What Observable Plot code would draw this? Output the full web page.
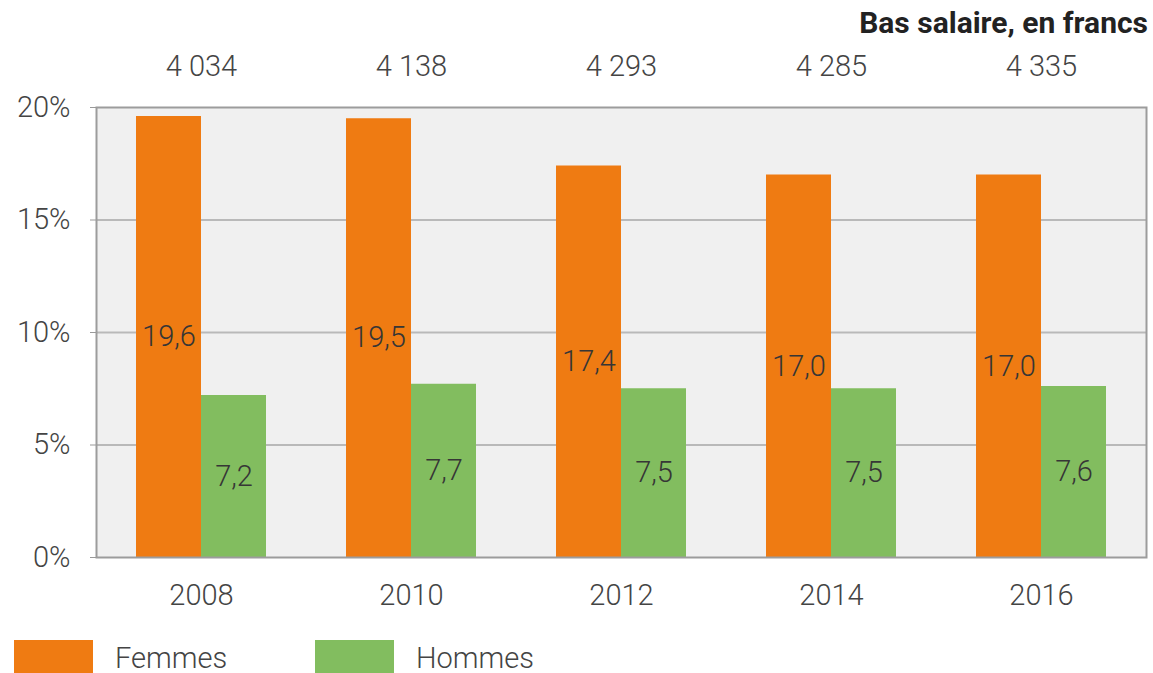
<!DOCTYPE html>
<html><head><meta charset="utf-8">
<script src="https://cdn.jsdelivr.net/npm/d3@7"></script>
<script src="https://cdn.jsdelivr.net/npm/@observablehq/plot@0.6"></script>
<style>
body{margin:0;background:#fff;font-family:Roboto,sans-serif;width:1153px;height:673px;overflow:hidden;color:#444}
#title{height:40px;line-height:46px;text-align:right;padding-right:5px;font-size:30px;font-weight:700;color:#222}
#chart svg{display:block;font-family:Roboto,sans-serif;font-weight:300}
#legend{display:flex;padding-top:15px;padding-left:14px;font-size:29px;font-weight:300;color:#444;line-height:1}
.item{display:flex;align-items:flex-start;width:301px}
.sw{width:79px;height:40px;margin-right:22px}
.item span{padding-top:4px}
</style>
</head><body>
<div id="title">Bas salaire, en francs</div>
<div id="chart"></div>
<div id="legend"></div>
<script>
const years = ["2008", "2010", "2012", "2014", "2016"];
const femmes = [19.6, 19.5, 17.4, 17.0, 17.0];
const hommes = [7.2, 7.7, 7.5, 7.5, 7.6];
const salaires = ["4 034", "4 138", "4 293", "4 285", "4 335"];
const series = ["Femmes", "Hommes"];
const colors = ["#ef7b12", "#82bd5f"];
const yTicks = [0, 5, 10, 15, 20];

const rows = [];
years.forEach((y, i) => {
  rows.push({year: y, series: "Femmes", value: femmes[i]});
  rows.push({year: y, series: "Hommes", value: hommes[i]});
});
const fmt = v => v.toFixed(1).replace(".", ",");
const rowsF = rows.filter(d => d.series === "Femmes");
const rowsH = rows.filter(d => d.series === "Hommes");
const topLabels = years.map((y, i) => ({year: y, label: salaires[i]}));

const chart = Plot.plot({
  width: 1153, height: 585,
  marginTop: 67, marginBottom: 68, marginLeft: 96, marginRight: 7,
  style: {fontFamily: "Roboto, sans-serif", fontWeight: 300, color: "#444", background: "white"},
  x: {type: "band", domain: years, paddingInner: 0.381, paddingOuter: 0.19, label: null},
  y: {domain: [0, 20], label: null},
  color: {domain: series, range: colors},
  marks: [
    Plot.frame({fill: "#f0f0f0"}),
    Plot.ruleY([5, 10, 15], {stroke: "#b9b9b9", strokeWidth: 2}),
    Plot.barY(rowsF, {x: "year", y: "value", fill: "series", insetRight: 65}),
    Plot.barY(rowsH, {x: "year", y: "value", fill: "series", insetLeft: 65}),
    Plot.text(rowsF, {x: "year", y: d => d.value / 2, text: d => fmt(d.value), dx: -32.5, fontSize: 29, fill: "#363636"}),
    Plot.text(rowsH, {x: "year", y: d => d.value / 2, text: d => fmt(d.value), dx: 32.5, fontSize: 29, fill: "#363636"}),
    Plot.text(topLabels, {x: "year", text: "label", frameAnchor: "top", dy: -52, fontSize: 29, fill: "#444"}),
    Plot.frame({stroke: "#9c9c9c", strokeWidth: 2}),
    Plot.axisY({ticks: yTicks, tickFormat: d => d + "%", tickSize: 6, tickPadding: 20, fontSize: 29, stroke: "#999", fill: "#444"}),
    Plot.axisX({tickSize: 0, tickPadding: 27, fontSize: 29, fill: "#444"})
  ]
});
document.getElementById("chart").appendChild(chart);

const lg = document.getElementById("legend");
series.forEach((s, i) => {
  const it = document.createElement("div"); it.className = "item";
  const sw = document.createElement("div"); sw.className = "sw"; sw.style.background = colors[i];
  const t = document.createElement("span"); t.textContent = s;
  it.appendChild(sw); it.appendChild(t); lg.appendChild(it);
});
</script>
</body></html>
